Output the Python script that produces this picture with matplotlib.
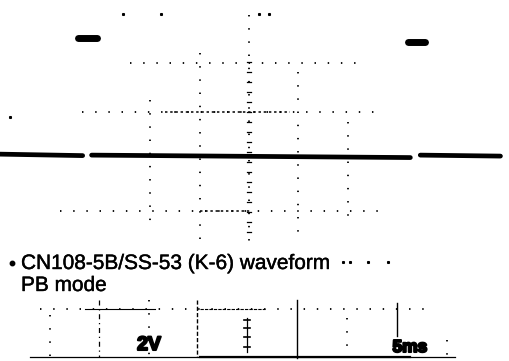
import matplotlib
matplotlib.use("Agg")
import matplotlib.pyplot as plt
import matplotlib.patheffects as pe

# ---- oscilloscope settings ----
volts_per_div = 2.0
ms_per_div = 5.0

# ---- waveform data (PB mode) ----
# low-level trace segments (time in ms, level in V)
low_start_ms = [-25.2, -15.9, 17.3]
low_end_ms = [-16.8, 16.3, 25.4]
low_start_v = [-1.72, -1.76, -1.76]
low_end_v = [-1.78, -1.86, -1.80]
# pulse tops
pulse_start_ms = [-17.3, 16.1]
pulse_end_ms = [-15.4, 17.8]
pulse_level_v = [3.00, 2.85]

# ---- texts ----
title_line1 = "CN108-5B/SS-53 (K-6) waveform"
title_line2 = "PB mode"
volt_label = "2V"
time_label = "5ms"

W, H = 510, 361
fig = plt.figure(figsize=(W / 100, H / 100), dpi=100)
fig.patch.set_facecolor("white")

# pixel-space axes for the scanned decorations
axp = fig.add_axes([0, 0, 1, 1], zorder=0)
axp.set_xlim(0, W)
axp.set_ylim(H, 0)
axp.axis("off")

# scope axes in ms / V
cx, cy, dpx, dpy = 249, 112, 49.5, 49.0
axs = fig.add_axes([0, 0, 1, 1], zorder=1)
axs.patch.set_alpha(0)
axs.set_xlim((0 - cx) / dpx * ms_per_div, (W - cx) / dpx * ms_per_div)
axs.set_ylim((cy - H) / dpy * volts_per_div, (cy - 0) / dpy * volts_per_div)
axs.axis("off")

dot = dict(color="black", lw=1.3, linestyle=(0, (0.8, 6.5)), solid_capstyle="butt")
dense = dict(color="black", lw=1.1, linestyle=(0, (1.6, 1.8)))

# graticule (pixel coords)
axp.plot([130, 360], [63, 63], **dot)
axp.plot([82, 378], [112, 112], **dot)
axp.plot([165, 290], [112, 112], **dense)
axp.plot([60, 388], [211, 211], **dot)
axp.plot([200, 250], [211, 211], **dense)
for x, y0, y1 in [(150, 100, 224), (200, 53, 240), (249, 15, 242), (298, 72, 232), (348, 122, 222)]:
    axp.plot([x, x], [y0, y1], **dot)
for x in [123, 161, 259, 269]:
    axp.plot([x], [14], marker="s", ms=1.2, color="black", lw=0)
axp.plot([10], [117], marker="s", ms=1.2, color="black", lw=0)
for y in range(62, 236, 10):
    axp.plot([247, 251], [y, y], color="black", lw=0.9)

# waveform
for t0, t1, v0, v1 in zip(low_start_ms, low_end_ms, low_start_v, low_end_v):
    axs.plot([t0, t1], [v0, v1], color="black", lw=3.4, solid_capstyle="round")
for t0, t1, v in zip(pulse_start_ms, pulse_end_ms, pulse_level_v):
    axs.plot([t0, t1], [v, v], color="black", lw=5.0, solid_capstyle="round")

# caption
fam = ["Liberation Sans", "DejaVu Sans"]
ink = [pe.withStroke(linewidth=0.3, foreground="black")]
axp.plot([12], [263], marker="o", ms=3.2, color="black", lw=0)
axp.text(21, 269, title_line1, fontsize=15, family=fam, va="baseline", ha="left", path_effects=ink)
axp.text(21, 291, title_line2, fontsize=15, family=fam, va="baseline", ha="left", path_effects=ink)
for x in [343, 350, 368, 388]:
    axp.plot([x], [262], marker="s", ms=1.2, color="black", lw=0)

# bottom panel (next scope screen)
axp.plot([40, 430], [309, 309], **dot)
axp.plot([85, 155], [309, 309], color="black", lw=0.8)
axp.plot([200, 265], [309, 309], color="black", lw=0.8, linestyle=(0, (3, 1)))
axp.plot([30, 455], [357, 357], color="black", lw=0.9)
axp.plot([200, 410], [357, 357], color="black", lw=1.6)
axp.plot([50, 50], [315, 357], **dot)
axp.plot([99, 99], [300, 357], color="black", lw=0.9, linestyle=(0, (4, 3, 1, 3)))
axp.plot([149, 149], [300, 357], **dot)
axp.plot([197, 197], [300, 357], color="black", lw=1.0, linestyle=(0, (3, 1.5)))
axp.plot([247, 247], [318, 352], color="black", lw=0.9)
for y in [320, 328, 337, 347]:
    axp.plot([244, 250], [y, y], color="black", lw=1.2)
axp.plot([297, 297], [300, 358], color="black", lw=1.0)
axp.plot([347, 347], [318, 352], **dot)
axp.plot([397, 397], [303, 336], color="black", lw=1.0)
axp.plot([447, 447], [340, 358], **dot)
heavy = [pe.withStroke(linewidth=1.5, foreground="black")]
axp.text(149, 350, volt_label, fontsize=14, family=fam, weight="bold", ha="center", va="baseline",
         path_effects=heavy)
axp.text(410, 352, time_label, fontsize=12.5, family=fam, weight="bold", ha="center", va="baseline",
         path_effects=heavy)

fig.savefig("out.png", dpi=100, facecolor="white")
